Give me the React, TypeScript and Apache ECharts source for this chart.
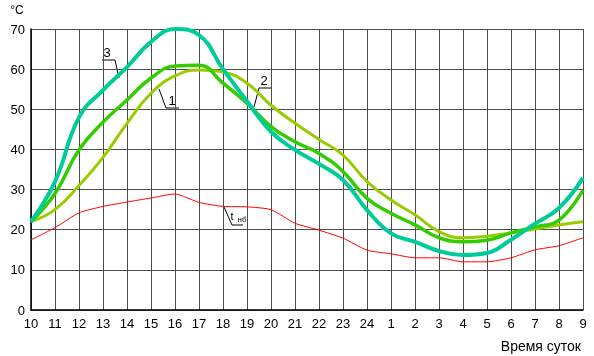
import React, { useEffect, useRef } from "react";
import * as echarts from "echarts";

const hours = ["10","11","12","13","14","15","16","17","18","19","20","21","22","23","24","1","2","3","4","5","6","7","8","9"];
const yTicks = [0, 10, 20, 30, 40, 50, 60, 70];

// curve 1 (light green)
const curve1 = [22, 25, 31, 38, 46.5, 54, 58.3, 59.8, 59.3, 56.5, 51, 46.5, 42.5, 38.6, 32, 27.4, 23.7, 19.5, 18, 18.4, 19.2, 20.2, 21.2, 22];
// curve 2 (green)
const curve2 = [22, 29, 39.9, 46.8, 52.3, 57.8, 60.8, 61, 56.5, 51.5, 45.7, 41.9, 39, 34.5, 27.8, 24.1, 21.2, 18, 17, 17.4, 19.2, 20.7, 22.4, 29.9];
// curve 3 (teal)
const curve3 = [22, 32, 48, 54.8, 60.5, 66.8, 70, 68.5, 60, 52, 44.4, 39.9, 36.4, 32.4, 24.9, 19.1, 17, 14.7, 13.7, 14.2, 17.5, 21.5, 25.4, 32.9];
// t_нб (red)
const tnb = [17.5, 20.5, 24.2, 25.8, 26.9, 27.9, 28.9, 26.8, 25.8, 25.7, 25, 21.6, 19.9, 17.9, 14.9, 14, 13, 13, 12, 12, 13, 15, 16, 18];

const FONT = "Liberation Sans";

export default function App() {
  const ref = useRef<HTMLDivElement>(null);
  useEffect(() => {
    const chart = echarts.init(ref.current!, null, { renderer: "svg" });
    const leader = (pts: number[][]) => ({
      type: "polyline",
      shape: { points: pts },
      style: { stroke: "#000", lineWidth: 1, fill: "none" },
      silent: true,
    });
    const label = (txt: string, x: number, y: number, size = 13) => ({
      type: "text",
      x,
      y,
      style: { text: txt, fontFamily: FONT, fontSize: size, fill: "#000", align: "center", verticalAlign: "middle" },
      silent: true,
    });
    chart.setOption({
      animation: false,
      grid: { left: 31, right: 11, top: 29, bottom: 46, containLabel: false },
      xAxis: {
        type: "category",
        data: hours,
        boundaryGap: false,
        axisLine: { show: true, lineStyle: { color: "#000", width: 1.5 } },
        axisTick: { show: false },
        axisLabel: { color: "#000", fontFamily: FONT, fontSize: 13, margin: 7, interval: 0 },
        splitLine: { show: true, interval: 0, lineStyle: { color: "#4d4d4d", width: 1 } },
      },
      yAxis: {
        type: "value",
        min: yTicks[0],
        max: yTicks[yTicks.length - 1],
        interval: 10,
        axisLine: { show: true, lineStyle: { color: "#000", width: 1.5 } },
        axisTick: { show: false },
        axisLabel: { color: "#000", fontFamily: FONT, fontSize: 13, margin: 6 },
        splitLine: { show: true, lineStyle: { color: "#4d4d4d", width: 1 } },
      },
      series: [
        { type: "line", data: tnb, showSymbol: false, smooth: 0.2, lineStyle: { color: "#FF0000", width: 1 } },
        { type: "line", data: curve1, showSymbol: false, smooth: 0.45, lineStyle: { color: "#99CC00", width: 3 } },
        { type: "line", data: curve2, showSymbol: false, smooth: 0.45, lineStyle: { color: "#33CC00", width: 3.5 } },
        { type: "line", data: curve3, showSymbol: false, smooth: 0.45, lineStyle: { color: "#00CC99", width: 4 } },
      ],
      graphic: [
        label("°C", 17, 10, 12),
        { type: "text", right: 13, top: 339, style: { text: "Время суток", fontFamily: FONT, fontSize: 14, fill: "#000" }, silent: true },
        leader([[102, 60], [115, 60], [119, 78]]),
        label("3", 107, 52),
        leader([[159, 89], [166, 108], [179, 108]]),
        label("1", 172, 100),
        leader([[254, 107], [259, 88], [272, 88]]),
        label("2", 264, 80),
        leader([[224, 207], [232, 225], [243, 225]]),
        label("t", 232, 216, 11),
        label("нб", 242, 219, 8),
      ],
    });
    return () => chart.dispose();
  }, []);
  return <div ref={ref} style={{ position: "fixed", left: 0, top: 0, width: 594, height: 356 }} />;
}
